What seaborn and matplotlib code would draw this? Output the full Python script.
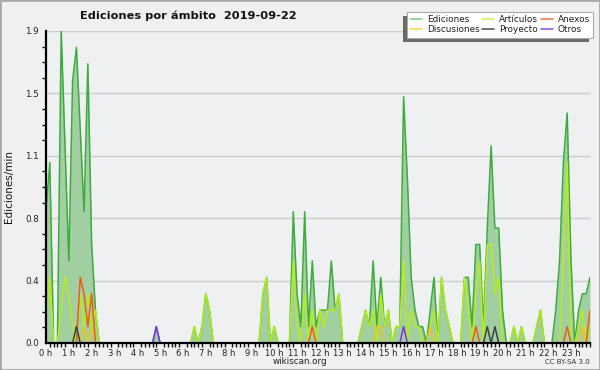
import numpy as np
import pandas as pd
import matplotlib
matplotlib.use("Agg")
import matplotlib.pyplot as plt
import seaborn as sns
from matplotlib.patches import Rectangle
from matplotlib.lines import Line2D
from matplotlib.ticker import FixedLocator, MultipleLocator

sns.set_theme(style="white")
plt.rcParams["font.family"] = ["DejaVu Sans"]

# ---- data (edits per minute, 10-minute buckets, 144 per day) ----
ediciones = [
    0.8, 1.1, 0, 0, 1.9, 1.2, 0.5, 1.6, 1.8, 1.3, 0.8, 1.7,
    0.6, 0.2, 0, 0, 0, 0, 0, 0, 0, 0, 0, 0,
    0, 0, 0, 0, 0, 0.1, 0, 0, 0, 0, 0, 0,
    0, 0, 0, 0.1, 0, 0.1, 0.3, 0.2, 0, 0, 0, 0,
    0, 0, 0, 0, 0, 0, 0, 0, 0, 0.3, 0.4, 0,
    0.1, 0, 0, 0, 0, 0.8, 0.3, 0.1, 0.8, 0.1, 0.5, 0.1,
    0.2, 0.2, 0.2, 0.5, 0.2, 0.3, 0, 0, 0, 0, 0, 0.1,
    0.2, 0.1, 0.5, 0.1, 0.4, 0.1, 0.2, 0, 0.1, 0.1, 1.5, 1.0,
    0.4, 0.2, 0.1, 0.1, 0, 0.2, 0.4, 0, 0.4, 0.2, 0.1, 0,
    0, 0, 0.4, 0.4, 0.1, 0.6, 0.6, 0.1, 0.7, 1.2, 0.7, 0.7,
    0.2, 0, 0, 0.1, 0, 0.1, 0, 0, 0, 0.1, 0.2, 0,
    0, 0, 0.2, 0.5, 1.1, 1.4, 0.5, 0, 0.2, 0.3, 0.3, 0.4,
]
articulos = [
    0.1, 0.4, 0, 0, 0.2, 0.4, 0.3, 0.1, 0, 0.3, 0.1, 0.3,
    0.1, 0.2, 0, 0, 0, 0, 0, 0, 0, 0, 0, 0,
    0, 0, 0, 0, 0, 0, 0, 0, 0, 0, 0, 0,
    0, 0, 0, 0.1, 0, 0.1, 0.3, 0.2, 0, 0, 0, 0,
    0, 0, 0, 0, 0, 0, 0, 0, 0, 0.3, 0.4, 0,
    0.1, 0, 0, 0, 0, 0.5, 0.1, 0, 0.3, 0, 0.2, 0,
    0.2, 0.1, 0.2, 0.2, 0.2, 0.3, 0, 0, 0, 0, 0, 0.1,
    0.2, 0.1, 0.2, 0, 0.3, 0.1, 0.2, 0, 0.1, 0.1, 0.5, 0,
    0.2, 0.1, 0.1, 0, 0, 0.1, 0.2, 0, 0.4, 0.2, 0.1, 0,
    0, 0, 0.4, 0.2, 0, 0.3, 0.5, 0, 0.6, 0.6, 0.3, 0.4,
    0, 0, 0, 0.1, 0, 0.1, 0, 0, 0, 0.1, 0.2, 0,
    0, 0, 0, 0, 0.5, 1.1, 0, 0, 0.1, 0.2, 0, 0.1,
]
anexos_pts = {9: 0.4, 10: 0.3, 11: 0.1, 12: 0.3, 70: 0.1, 113: 0.1, 137: 0.1, 143: 0.2}
discusiones_pts = {10: 0.1, 12: 0.1, 87: 0.1, 88: 0.1, 101: 0.1, 141: 0.1}
proyecto_pts = {8: 0.1, 116: 0.1, 118: 0.1}
otros_pts = {29: 0.1, 94: 0.1}

n = len(ediciones)
anexos = [anexos_pts.get(i, 0) for i in range(n)]
discusiones = [discusiones_pts.get(i, 0) for i in range(n)]
proyecto = [proyecto_pts.get(i, 0) for i in range(n)]
otros = [otros_pts.get(i, 0) for i in range(n)]

hour_labels = [f"{h} h" for h in range(24)]
ytick_vals = [0, 0.38, 0.76, 1.14, 1.52, 1.9]
ytick_labels = ["0.0", "0.4", "0.8", "1.1", "1.5", "1.9"]

line_colors = {"Ediciones": "#3eab3e", "Artículos": "#b6ec1c", "Anexos": "#f05a18",
               "Discusiones": "#f2c21c", "Proyecto": "#404040", "Otros": "#7a30ee"}
legend_colors = {"Ediciones": "#86cf86", "Artículos": "#cdf25a", "Anexos": "#f47a4c",
                 "Discusiones": "#f8d45a", "Proyecto": "#5a5a5a", "Otros": "#9a5af2"}

df = pd.DataFrame({"t": np.arange(n), "Ediciones": ediciones, "Artículos": articulos,
                   "Anexos": anexos, "Discusiones": discusiones,
                   "Proyecto": proyecto, "Otros": otros})

fig = plt.figure(figsize=(6, 3.7), dpi=100, facecolor="#f0f0f0")
fig.patches.append(Rectangle((0, 0), 1, 1, transform=fig.transFigure, fill=False,
                             edgecolor="#a8a8a8", linewidth=2))
ax = fig.add_axes([46 / 600, 27 / 370, 544 / 600, 312 / 370])
ax.set_facecolor("#eef0f2")

ax.fill_between(df["t"], 0, df["Ediciones"], color="#a2cfa2", linewidth=0, zorder=1)
draw_order = ["Ediciones", "Artículos", "Discusiones", "Anexos", "Proyecto", "Otros"]
for k, name in enumerate(draw_order):
    sns.lineplot(data=df, x="t", y=name, ax=ax, color=line_colors[name],
                 linewidth=1.1, zorder=2 + k * 0.01)

ax.set_xlim(0, n - 1)
ax.set_ylim(0, 1.9)
ax.set_xlabel("")
ax.set_ylabel("Ediciones/min", fontsize=7.5, color="#111111", labelpad=8)

ax.xaxis.set_major_locator(FixedLocator(np.arange(0, 24) * 6))
ax.set_xticklabels(hour_labels)
ax.xaxis.set_minor_locator(MultipleLocator(1))
ax.yaxis.set_major_locator(FixedLocator(ytick_vals))
ax.set_yticklabels(ytick_labels)
ax.yaxis.set_minor_locator(MultipleLocator(0.095))
ax.tick_params(axis="x", which="major", length=3.5, width=1, labelsize=6, pad=0.5, colors="#111111")
ax.tick_params(axis="x", which="minor", length=3, width=1, bottom=True, colors="#111111")
ax.tick_params(axis="y", which="major", length=4, width=1, labelsize=6.3, pad=1, colors="#111111")
ax.tick_params(axis="y", which="minor", length=3, width=1, left=True, colors="#111111")
for lab in ax.get_xticklabels() + ax.get_yticklabels():
    lab.set_color("#222222")

for y in ytick_vals[1:]:
    ax.axhline(y, color="#cccccc", linewidth=1, zorder=0.5)

for s in ["top", "right"]:
    ax.spines[s].set_visible(False)
for s in ["left", "bottom"]:
    ax.spines[s].set_color("#000000")
    ax.spines[s].set_linewidth(1.6)
    ax.spines[s].set_zorder(5)

fig.text(188 / 600, 1 - 16 / 370, "Ediciones por ámbito  2019-09-22", ha="center",
         va="center", fontsize=8.2, fontweight="bold", color="#111111")

handles = [Line2D([], [], color=legend_colors[nm], linewidth=1.2) for nm in
           ["Ediciones", "Discusiones", "Artículos", "Proyecto", "Anexos", "Otros"]]
labels = ["Ediciones", "Discusiones", "Artículos", "Proyecto", "Anexos", "Otros"]
leg = fig.legend(handles, labels, ncol=3, loc="upper right",
                 bbox_to_anchor=(593 / 600, 1 - 12 / 370), bbox_transform=fig.transFigure,
                 fontsize=6.4, frameon=True, fancybox=False, handlelength=1.35,
                 handletextpad=0.55, columnspacing=0.3, labelspacing=0.15,
                 borderpad=0.35, borderaxespad=0)
leg.get_frame().set_facecolor("white")
leg.get_frame().set_edgecolor("#aaaaaa")
leg.get_frame().set_linewidth(0.8)
leg.get_frame().set_alpha(1)
for t in leg.get_texts():
    t.set_color("#222222")

fig.canvas.draw()
bb = leg.get_window_extent().transformed(fig.transFigure.inverted())
shadow = Rectangle((bb.x0 - 4 / 600, bb.y0 - 4 / 370), bb.width, bb.height,
                   transform=fig.transFigure, facecolor="#6a6a6a", edgecolor="none", zorder=0.5)
fig.patches.append(shadow)
leg.set_zorder(10)

fig.text(300 / 600, 1 - 362 / 370, "wikiscan.org", ha="center", va="center",
         fontsize=6.3, color="#222222")
fig.text(590 / 600, 1 - 362 / 370, "CC BY-SA 3.0", ha="right", va="center",
         fontsize=5, color="#333333")

fig.savefig("out.png", dpi=100, facecolor=fig.get_facecolor())
